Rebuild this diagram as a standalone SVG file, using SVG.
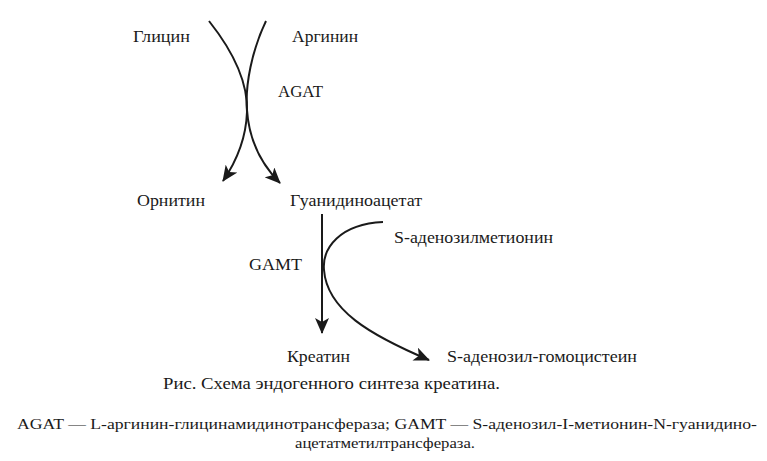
<svg xmlns="http://www.w3.org/2000/svg" width="767" height="461" viewBox="0 0 767 461">
<style>
text{font-family:"Liberation Serif","Times New Roman",serif;fill:#1a1a1a}
.l{font-size:17px}
.c{font-size:16px}
.line{fill:none;stroke:#1a1a1a;stroke-width:2}
</style>
<defs>
<marker id="ah" viewBox="0 0 16 14" refX="15" refY="7" markerWidth="16" markerHeight="14" markerUnits="userSpaceOnUse" orient="auto">
<path d="M0,0 L16,7 L0,14 L4,7 Z" fill="#1a1a1a"/>
</marker>
</defs>
<rect width="767" height="461" fill="#fff"/>
<g id="connectors">
<path class="line" d="M209,21 C236,55 248,85 247,112 C246,140 236,162 223,181" marker-end="url(#ah)"/>
<path class="line" d="M266,21 C252,50 245,85 247,110 C249,140 262,165 280,183" marker-end="url(#ah)"/>
<path class="line" d="M322,214 L322,333" marker-end="url(#ah)"/>
<path class="line" d="M383,222 C340,224 322,248 324,270 C327,310 370,335 429,360" marker-end="url(#ah)"/>
</g>
<g id="glycine"><text class="l" x="133" y="42" textLength="57" lengthAdjust="spacingAndGlyphs">Глицин</text></g>
<g id="arginine"><text class="l" x="292" y="42" textLength="66" lengthAdjust="spacingAndGlyphs">Аргинин</text></g>
<g id="agat"><text class="l" x="278" y="97" textLength="45" lengthAdjust="spacingAndGlyphs">AGAT</text></g>
<g id="ornithine"><text class="l" x="137" y="206" textLength="68" lengthAdjust="spacingAndGlyphs">Орнитин</text></g>
<g id="guanidinoacetate"><text class="l" x="290" y="206" textLength="132" lengthAdjust="spacingAndGlyphs">Гуанидиноацетат</text></g>
<g id="sam"><text class="l" x="394" y="243" textLength="159" lengthAdjust="spacingAndGlyphs">S-аденозилметионин</text></g>
<g id="gamt"><text class="l" x="249" y="270" textLength="53" lengthAdjust="spacingAndGlyphs">GAMT</text></g>
<g id="creatine"><text class="l" x="287" y="362" textLength="63" lengthAdjust="spacingAndGlyphs">Креатин</text></g>
<g id="sah"><text class="l" x="447" y="362" textLength="190" lengthAdjust="spacingAndGlyphs">S-аденозил-гомоцистеин</text></g>
<g id="caption">
<text class="c" x="163" y="389" textLength="337" lengthAdjust="spacingAndGlyphs">Рис. Схема эндогенного синтеза креатина.</text>
<text x="17" y="429" font-size="14" textLength="740" lengthAdjust="spacingAndGlyphs">AGAT  —  L-аргинин-глицинамидинотрансфераза;  GAMT  —  S-аденозил-I-метионин-N-гуанидино-</text>
<text x="295" y="448" font-size="14" textLength="180" lengthAdjust="spacingAndGlyphs">ацетатметилтрансфераза.</text>
</g>
</svg>
